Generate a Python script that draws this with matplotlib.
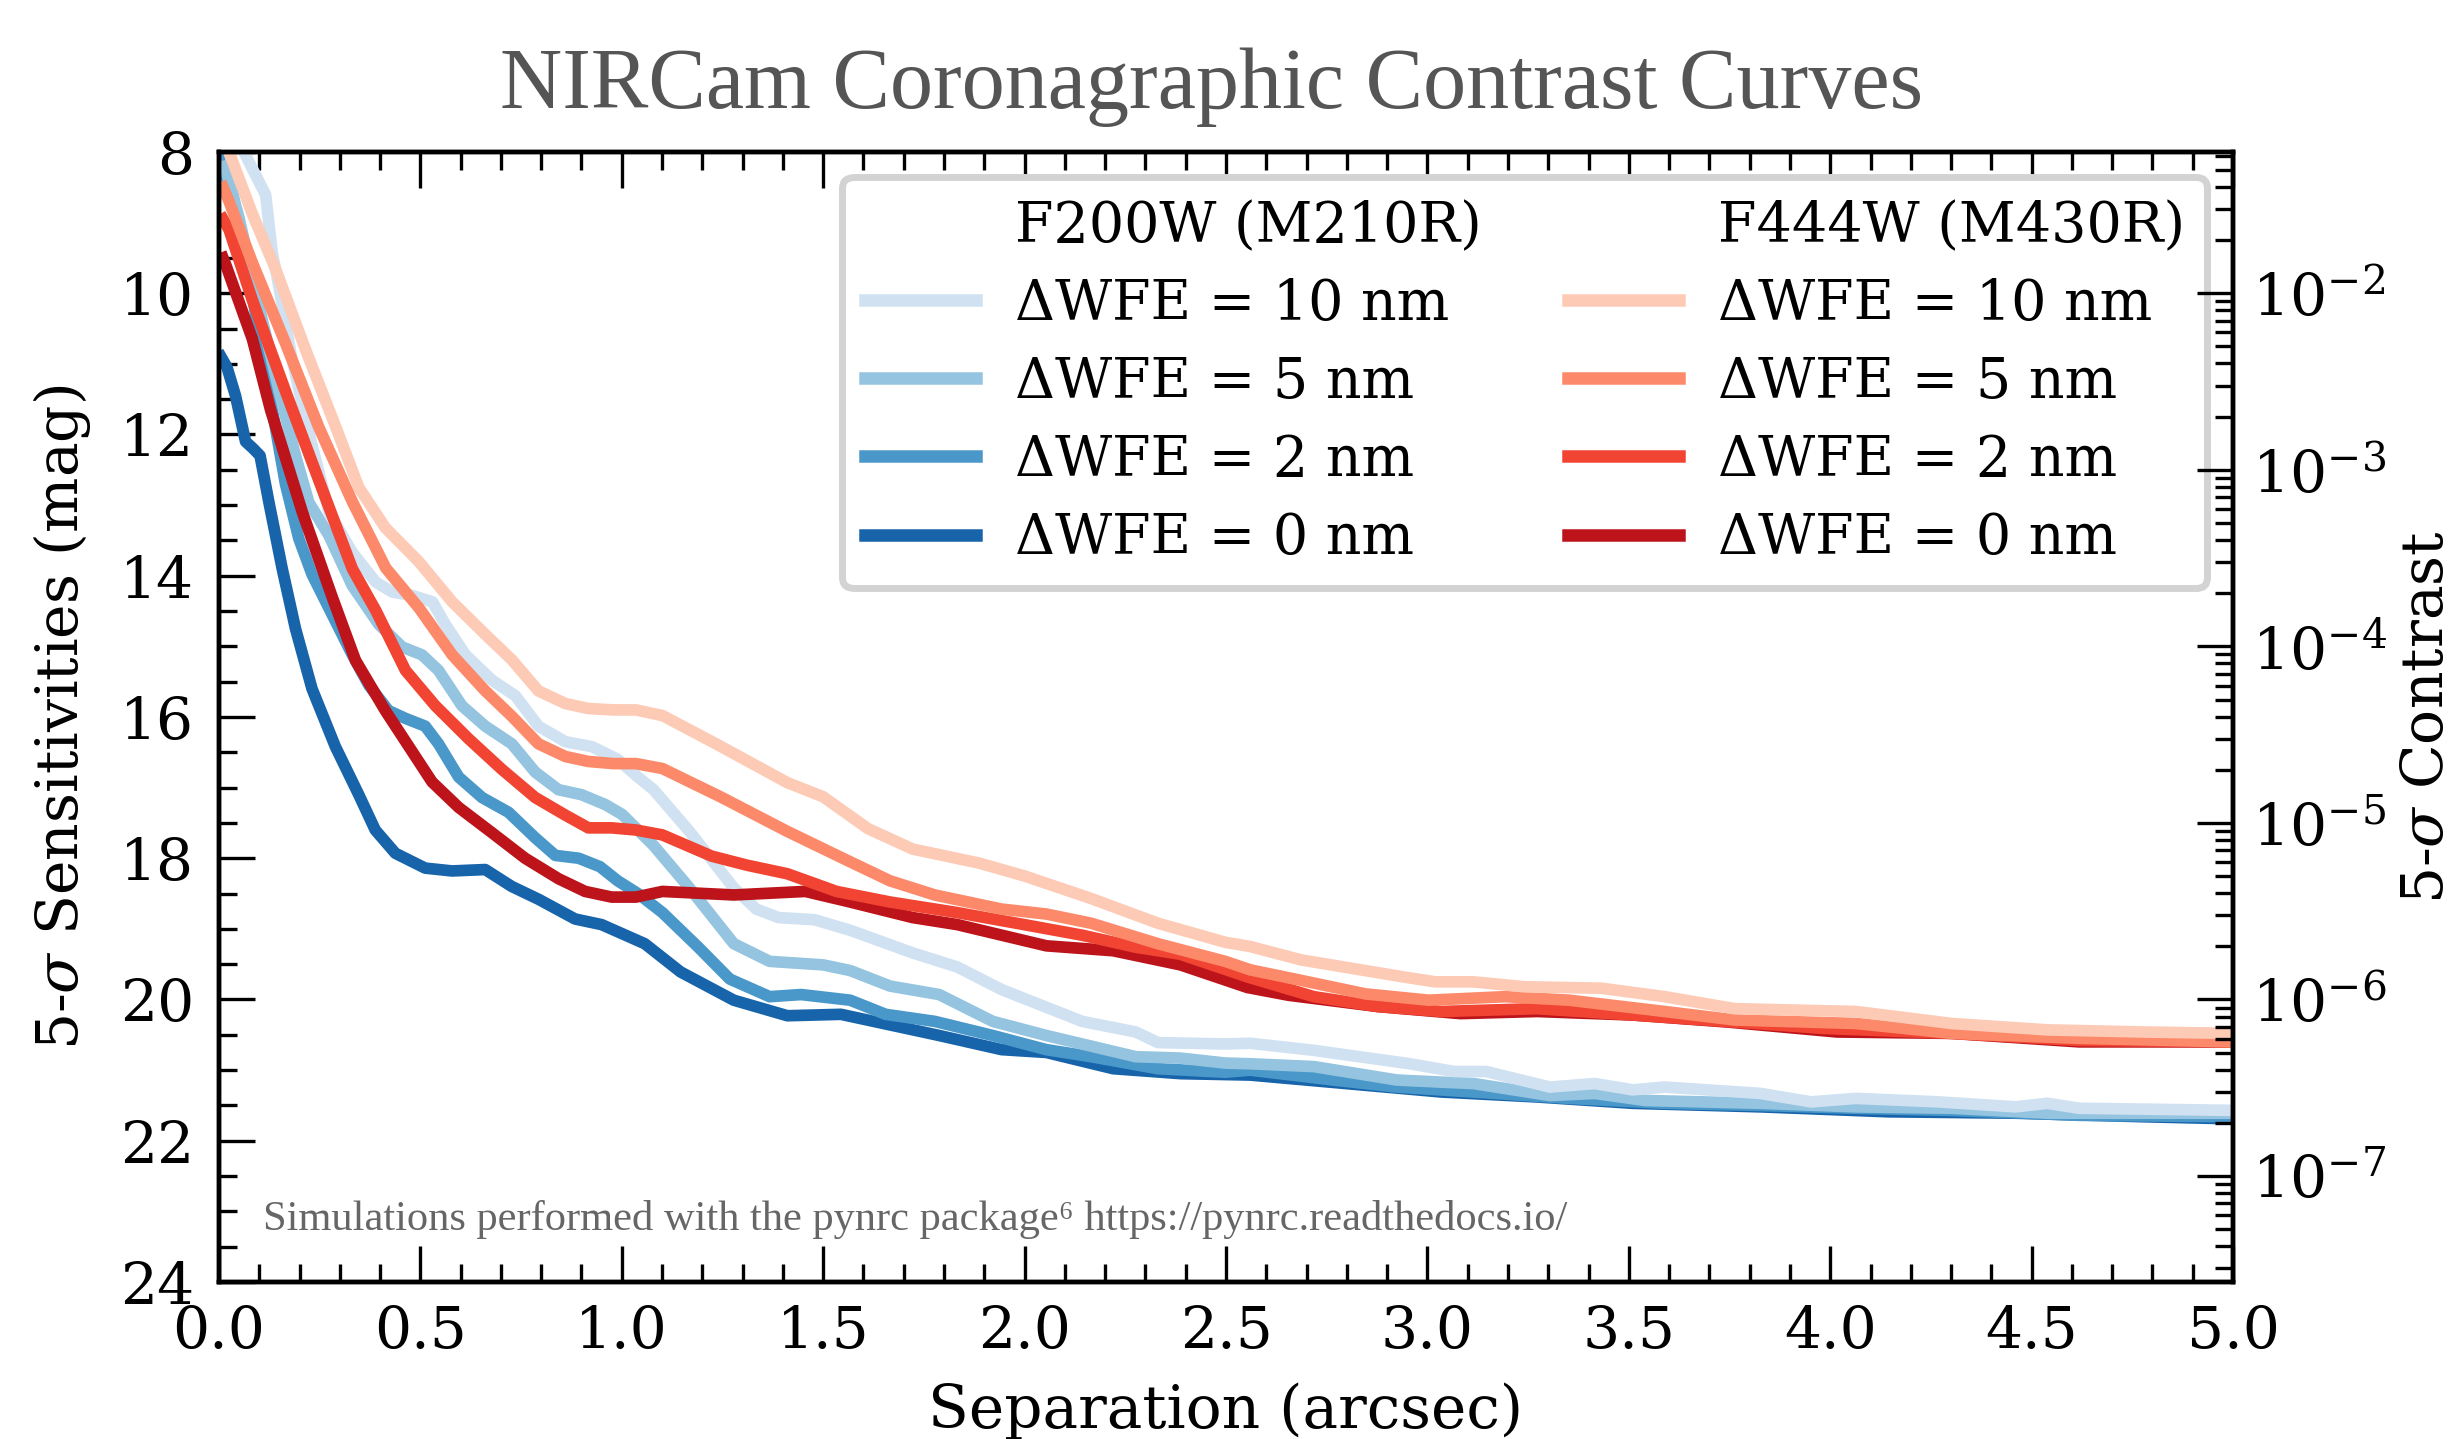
import numpy as np
import matplotlib
matplotlib.use('Agg')
import matplotlib.pyplot as plt
from matplotlib.lines import Line2D
from matplotlib.ticker import MultipleLocator, LogLocator, LogFormatterSciNotation, NullFormatter

plt.rcParams['font.family'] = 'DejaVu Serif'
plt.rcParams['mathtext.fontset'] = 'dejavuserif'
plt.rcParams['axes.unicode_minus'] = False

# Magnitude of the host star used to turn the sensitivities into contrast
mag_star = 5.0

# F200W (M210R) curves, separation (arcsec) and 5-sigma sensitivity (mag)
sep_f200_10 = [0.03, 0.062, 0.116, 0.132, 0.145, 0.18, 0.22, 0.273, 0.331, 0.389, 0.43, 0.48, 0.53,
               0.562, 0.612, 0.678, 0.736, 0.793, 0.86, 0.926, 0.99, 1.04, 1.079, 1.168, 1.278, 1.334,
               1.389, 1.478, 1.567, 1.722, 1.833, 1.943, 2.054, 2.143, 2.276, 2.331, 2.498, 2.56, 2.718,
               2.956, 3.067, 3.146, 3.304, 3.415, 3.51, 3.589, 3.827, 3.953, 4.064, 4.27, 4.46, 4.539,
               4.618, 5.0]
mag_f200_10 = [7.6, 8.0, 8.61, 9.42, 9.79, 10.9, 11.9, 13.1, 13.67, 14.09, 14.23, 14.28, 14.37,
               14.69, 15.12, 15.48, 15.7, 16.13, 16.35, 16.42, 16.6, 16.85, 17.03, 17.62, 18.42, 18.72,
               18.84, 18.87, 19.02, 19.34, 19.54, 19.86, 20.11, 20.31, 20.46, 20.61, 20.63, 20.62, 20.72,
               20.91, 21.02, 21.02, 21.24, 21.19, 21.28, 21.24, 21.33, 21.45, 21.4, 21.45, 21.52, 21.47,
               21.54, 21.57]

sep_f200_5 = [0.015, 0.05, 0.1, 0.15, 0.19, 0.223, 0.273, 0.331, 0.397, 0.455, 0.504, 0.545, 0.603,
              0.661, 0.727, 0.785, 0.843, 0.9, 0.959, 1.001, 1.04, 1.079, 1.168, 1.278, 1.367, 1.5,
              1.567, 1.666, 1.788, 1.921, 2.054, 2.165, 2.276, 2.387, 2.498, 2.56, 2.718, 2.924, 3.035,
              3.114, 3.304, 3.415, 3.541, 3.827, 4.064, 4.302, 4.539, 5.0]
mag_f200_5 = [8.2, 8.94, 10.2, 11.4, 12.3, 12.96, 13.43, 14.14, 14.69, 15.01, 15.12, 15.34, 15.84,
              16.13, 16.38, 16.78, 17.03, 17.1, 17.24, 17.38, 17.6, 17.82, 18.42, 19.21, 19.46, 19.51,
              19.59, 19.81, 19.93, 20.31, 20.51, 20.66, 20.81, 20.83, 20.9, 20.91, 20.95, 21.14, 21.17,
              21.19, 21.36, 21.33, 21.43, 21.47, 21.52, 21.54, 21.61, 21.61]

sep_f200_2 = [0.0, 0.033, 0.07, 0.1, 0.132, 0.165, 0.198, 0.231, 0.281, 0.331, 0.372, 0.421, 0.463,
              0.512, 0.545, 0.595, 0.653, 0.719, 0.785, 0.835, 0.893, 0.946, 0.99, 1.04, 1.101, 1.19,
              1.268, 1.367, 1.445, 1.567, 1.655, 1.777, 1.921, 2.054, 2.165, 2.331, 2.498, 2.56, 2.766,
              2.924, 3.114, 3.352, 3.589, 3.827, 4.064, 4.302, 4.618, 5.0]
mag_f200_2 = [8.09, 8.57, 9.6, 10.6, 11.64, 12.7, 13.47, 13.98, 14.55, 15.12, 15.55, 15.91, 16.02,
              16.13, 16.38, 16.85, 17.14, 17.35, 17.71, 17.96, 18.0, 18.12, 18.32, 18.5, 18.77, 19.26,
              19.71, 19.96, 19.93, 20.01, 20.21, 20.31, 20.51, 20.71, 20.81, 20.98, 21.03, 21.0, 21.14,
              21.24, 21.31, 21.4, 21.47, 21.5, 21.54, 21.57, 21.64, 21.66]

sep_f200_0 = [0.005, 0.02, 0.041, 0.066, 0.085, 0.102, 0.124, 0.157, 0.19, 0.231, 0.289, 0.347, 0.388,
              0.438, 0.512, 0.579, 0.661, 0.727, 0.793, 0.884, 0.95, 1.057, 1.146, 1.278, 1.411, 1.544,
              1.666, 1.788, 1.943, 2.054, 2.22, 2.387, 2.56, 2.797, 3.035, 3.272, 3.51, 3.827, 4.143,
              4.46, 4.777, 5.0]
mag_f200_0 = [10.9, 11.05, 11.45, 12.1, 12.2, 12.3, 12.96, 13.9, 14.75, 15.6, 16.42, 17.1, 17.6,
              17.93, 18.14, 18.18, 18.16, 18.4, 18.58, 18.86, 18.94, 19.21, 19.61, 20.01, 20.23, 20.21,
              20.36, 20.51, 20.71, 20.75, 20.98, 21.05, 21.07, 21.19, 21.31, 21.38, 21.47, 21.52, 21.59,
              21.61, 21.66, 21.69]

# F444W (M430R) curves
sep_f444_10 = [0.005, 0.025, 0.083, 0.14, 0.215, 0.289, 0.347, 0.413, 0.496, 0.579, 0.661, 0.727, 0.793,
               0.86, 0.917, 0.979, 1.035, 1.101, 1.234, 1.411, 1.5, 1.611, 1.722, 1.888, 1.999, 2.165,
               2.331, 2.498, 2.56, 2.687, 2.94, 3.019, 3.114, 3.241, 3.431, 3.589, 3.763, 4.064, 4.302,
               4.539, 4.777, 5.0]
mag_f444_10 = [7.75, 8.0, 8.88, 9.65, 10.8, 11.88, 12.75, 13.32, 13.8, 14.37, 14.83, 15.19, 15.63,
               15.81, 15.88, 15.9, 15.9, 15.98, 16.38, 16.93, 17.13, 17.58, 17.87, 18.07, 18.25, 18.57,
               18.92, 19.19, 19.25, 19.44, 19.68, 19.75, 19.75, 19.82, 19.84, 19.96, 20.13, 20.17, 20.34,
               20.43, 20.46, 20.48]

sep_f444_5 = [0.01, 0.025, 0.083, 0.166, 0.248, 0.331, 0.414, 0.497, 0.579, 0.661, 0.727, 0.793, 0.86,
              0.917, 0.979, 1.035, 1.101, 1.245, 1.411, 1.556, 1.666, 1.777, 1.943, 2.054, 2.165, 2.331,
              2.498, 2.56, 2.687, 2.845, 3.003, 3.193, 3.352, 3.589, 3.763, 4.064, 4.302, 4.618, 5.0]
mag_f444_5 = [8.5, 8.7, 9.57, 10.72, 11.9, 12.95, 13.89, 14.46, 15.12, 15.63, 15.99, 16.38, 16.56,
              16.63, 16.66, 16.66, 16.73, 17.13, 17.62, 18.02, 18.32, 18.52, 18.72, 18.79, 18.92, 19.21,
              19.46, 19.58, 19.73, 19.92, 20.01, 19.96, 20.01, 20.17, 20.29, 20.34, 20.48, 20.55, 20.6]

sep_f444_2 = [0.01, 0.025, 0.083, 0.166, 0.248, 0.331, 0.39, 0.463, 0.537, 0.62, 0.702, 0.785, 0.86,
              0.917, 0.975, 1.035, 1.101, 1.223, 1.312, 1.411, 1.533, 1.666, 1.833, 1.999, 2.143, 2.276,
              2.387, 2.553, 2.718, 2.877, 3.035, 3.272, 3.51, 3.763, 3.985, 4.302, 4.618, 5.0]
mag_f444_2 = [8.95, 9.1, 10.1, 11.4, 12.65, 13.9, 14.5, 15.34, 15.84, 16.31, 16.74, 17.14, 17.39,
              17.57, 17.57, 17.6, 17.67, 17.97, 18.1, 18.22, 18.47, 18.62, 18.77, 18.94, 19.09, 19.26,
              19.36, 19.68, 19.96, 20.1, 20.17, 20.13, 20.22, 20.32, 20.41, 20.48, 20.58, 20.6]

sep_f444_0 = [0.01, 0.017, 0.083, 0.128, 0.207, 0.281, 0.339, 0.413, 0.529, 0.595, 0.678, 0.76, 0.843,
              0.909, 0.975, 1.035, 1.101, 1.278, 1.456, 1.567, 1.722, 1.833, 2.054, 2.22, 2.387, 2.553,
              2.655, 2.877, 3.082, 3.272, 3.51, 3.747, 4.017, 4.302, 4.618, 5.0]
mag_f444_0 = [9.5, 9.6, 10.65, 11.65, 13.1, 14.3, 15.2, 15.91, 16.92, 17.28, 17.64, 18.0, 18.29,
              18.47, 18.55, 18.55, 18.47, 18.52, 18.47, 18.62, 18.84, 18.94, 19.24, 19.31, 19.51, 19.83,
              19.94, 20.1, 20.2, 20.17, 20.22, 20.32, 20.46, 20.48, 20.6, 20.6]

wfe_labels = ['10', '5', '2', '0']
f200_curves = [(sep_f200_10, mag_f200_10), (sep_f200_5, mag_f200_5),
               (sep_f200_2, mag_f200_2), (sep_f200_0, mag_f200_0)]
f444_curves = [(sep_f444_10, mag_f444_10), (sep_f444_5, mag_f444_5),
               (sep_f444_2, mag_f444_2), (sep_f444_0, mag_f444_0)]

blues = plt.cm.Blues(np.linspace(0.2, 0.8, 4))
reds = plt.cm.Reds(np.linspace(0.2, 0.8, 4))

fig = plt.figure(figsize=(12.26, 7.195), dpi=200)
ax = fig.add_axes([0.0893, 0.1091, 0.8214, 0.7853])

# draw 0 nm first so the larger WFE curves sit on top, blues under reds
blue_lines = [None] * 4
red_lines = [None] * 4
for i in [3, 2, 1, 0]:
    s, m = f200_curves[i]
    blue_lines[i], = ax.plot(s, m, color=blues[i], lw=4.2)
for i in [3, 2, 1, 0]:
    s, m = f444_curves[i]
    red_lines[i], = ax.plot(s, m, color=reds[i], lw=4.2)

ax.set_xlim(0, 5)
ax.set_ylim(24, 8)
ax.xaxis.set_major_locator(MultipleLocator(0.5))
ax.xaxis.set_minor_locator(MultipleLocator(0.1))
ax.yaxis.set_major_locator(MultipleLocator(2))
ax.yaxis.set_minor_locator(MultipleLocator(0.5))
ax.tick_params(which='both', direction='in', top=True, right=False, labelsize=21, width=1.2)
ax.tick_params(which='major', length=13)
ax.tick_params(which='minor', length=6.5)
ax.tick_params(axis='x', pad=8)
ax.tick_params(axis='y', pad=9)
for sp in ax.spines.values():
    sp.set_linewidth(1.6)

ax.set_xlabel('Separation (arcsec)', fontsize=21.5, labelpad=8)
ax.set_ylabel('5-$\\sigma$ Sensitivities (mag)', fontsize=21, labelpad=9.5)
ax.set_title('NIRCam Coronagraphic Contrast Curves', fontsize=31, color='#555555',
             family='Liberation Serif', pad=16, x=0.493)

# contrast axis on the right
ax2 = ax.twinx()
ax2.set_yscale('log')
ax2.set_ylim(10 ** (-0.4 * (24 - mag_star)), 10 ** (-0.4 * (8 - mag_star)))
ax2.yaxis.set_major_locator(LogLocator(base=10, numticks=20))
ax2.yaxis.set_minor_locator(LogLocator(base=10, subs=np.arange(2, 10), numticks=20))
ax2.yaxis.set_major_formatter(LogFormatterSciNotation())
ax2.yaxis.set_minor_formatter(NullFormatter())
ax2.tick_params(which='both', direction='in', labelsize=21, width=1.2, pad=7)
ax2.tick_params(which='major', length=13)
ax2.tick_params(which='minor', length=6.5)
ax2.set_ylabel('5-$\\sigma$ Contrast', fontsize=21, labelpad=4)
for sp in ax2.spines.values():
    sp.set_linewidth(1.6)

# legend with a header row per filter
blank = Line2D([], [], color='none')
handles = [blank] + blue_lines + [blank] + red_lines
labels = (['F200W (M210R)'] + ['ΔWFE = %s nm' % w for w in wfe_labels]
          + ['F444W (M430R)'] + ['ΔWFE = %s nm' % w for w in wfe_labels])
leg = ax.legend(handles, labels, ncol=2, fontsize=20, loc='upper right',
                bbox_to_anchor=(0.987, 0.978), borderaxespad=0, framealpha=1,
                edgecolor='#d3d3d3', handlelength=2.0, handletextpad=0.7,
                columnspacing=1.55, labelspacing=0.42)
leg.get_frame().set_linewidth(2.5)
for line in leg.get_lines():
    line.set_linewidth(4.5)

ax.text(0.022, 0.046, 'Simulations performed with the pynrc package\u2076 https://pynrc.readthedocs.io/',
        transform=ax.transAxes, fontsize=15.3, color='#666666',
        family=['Liberation Serif', 'DejaVu Serif'])

fig.savefig('out.png', dpi=200)
